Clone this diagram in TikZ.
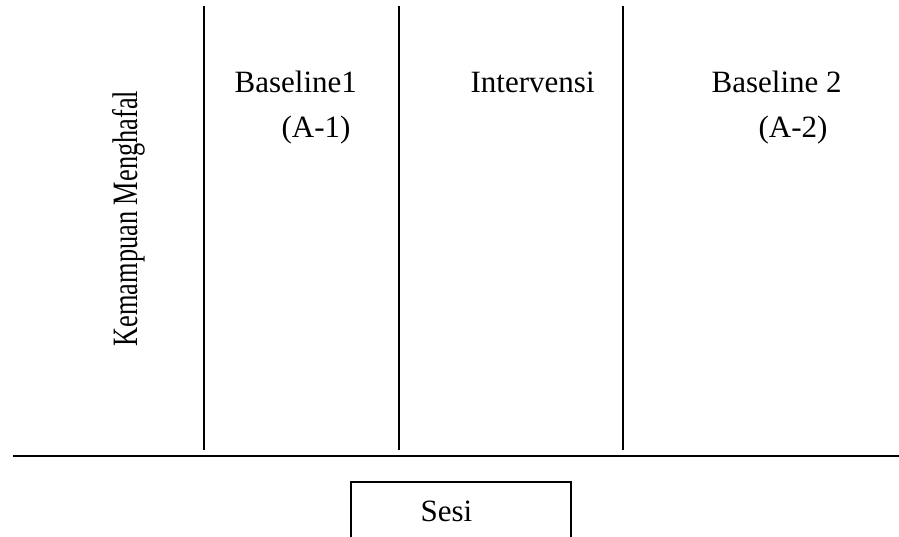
\documentclass[tikz,border=0pt]{standalone}
\usepackage{fontspec}
\setmainfont{Liberation Serif}
\usepackage{graphicx}
\usetikzlibrary{positioning}

\begin{document}
\begin{tikzpicture}[x=1pt,y=-1pt,line width=1.3pt,
        lbl/.style={anchor=base west,inner sep=0pt,font=\fontsize{31}{37}\selectfont}]
        \useasboundingbox (0,0) rectangle (899,537);

        % fase
        \draw (204,6) -- (204,450);
        \draw (399,6) -- (399,450);
        \draw (623,6) -- (623,450);
        \draw (13,456) -- (899,456);

        % kotak sesi, terbuka di bawah
        \draw (351,537) -- (351,482) -- (571,482) -- (571,537);

        \node[lbl] (a1) at (234,93) {Baseline1};
        \node[lbl] (a1b) at (281,138) {(A-1)};
        \node[lbl] (b) at (470,93) {Intervensi};
        \node[lbl] (a2) at (711,93) {Baseline 2};
        \node[lbl] (a2b) at (758,138) {(A-2)};
        \node[lbl] (sesi) at (420,521) {Sesi};
        \node[lbl,rotate=90] (y) at (137,347)
            {\scalebox{0.85}[1.15]{Kemampuan Menghafal}};
    \end{tikzpicture}
\end{document}
